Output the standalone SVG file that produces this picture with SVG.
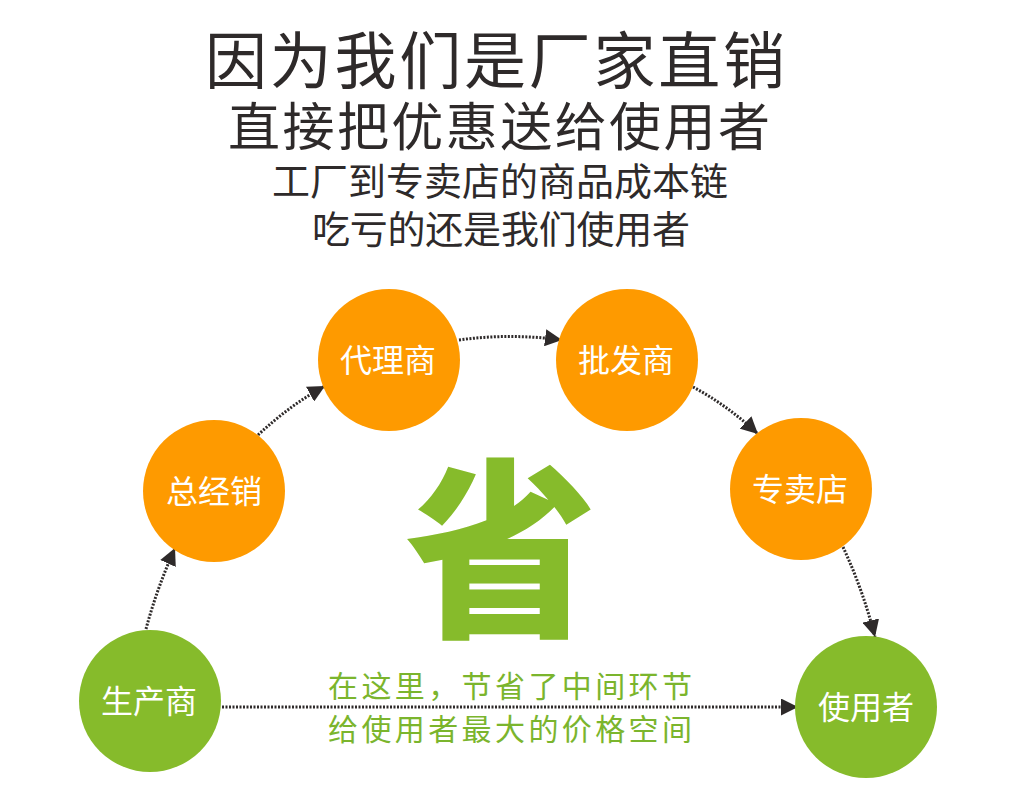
<svg xmlns="http://www.w3.org/2000/svg" width="1009" height="791" viewBox="0 0 1009 791">
<style>
.title{font-family:"Noto Sans CJK SC","Noto Sans CJK TC",sans-serif;fill:#2e2a2a;text-anchor:middle;}
.node-o{fill:#fe9a00;}
.node-g{fill:#86bb2b;}
.lbl{font-family:"Noto Sans CJK SC",sans-serif;font-size:32px;fill:#ffffff;text-anchor:middle;}
.conn{fill:none;stroke:#2e2a2a;stroke-width:3;stroke-dasharray:2 1.5;marker-end:url(#arr);}
.note{font-family:"Noto Sans CJK SC",sans-serif;font-size:30px;fill:#7bb52d;}
.big{font-family:"Noto Sans CJK SC",sans-serif;font-weight:900;font-size:192px;fill:#86bb2b;text-anchor:middle;}
</style>
<defs>
<marker id="arr" markerUnits="userSpaceOnUse" markerWidth="18" markerHeight="17" refX="17" refY="8.5" orient="auto">
<path d="M0,0 L17,8.5 L0,17 z" fill="#2e2a2a"/>
</marker>
</defs>
<rect width="1009" height="791" fill="#ffffff"/>
<g id="titles">
<text class="title" x="495" y="84" font-size="62" textLength="580" lengthAdjust="spacing">因为我们是厂家直销</text>
<text class="title" x="499" y="146" font-size="52" textLength="542" lengthAdjust="spacing">直接把优惠送给使用者</text>
<text class="title" x="500" y="195" font-size="38" textLength="456" lengthAdjust="spacing">工厂到专卖店的商品成本链</text>
<text class="title" x="501" y="243" font-size="38" textLength="378" lengthAdjust="spacing">吃亏的还是我们使用者</text>
</g>
<g id="connectors">
<path class="conn" d="M146,629 Q157,588 175,548"/>
<path class="conn" d="M258,435 Q290,405 325,386"/>
<path class="conn" d="M459,340 Q510,333 562,340"/>
<path class="conn" d="M693,387 Q727,405 758,434"/>
<path class="conn" d="M843,547 Q863,590 875,637"/>
<path class="conn" d="M222,707 L798,707"/>
</g>
<g id="node-shengchanshang">
<circle class="node-g" cx="150" cy="701" r="71"/>
<text class="lbl" x="149" y="713">生产商</text>
</g>
<g id="node-zongjingxiao">
<circle class="node-o" cx="214" cy="491" r="71"/>
<text class="lbl" x="214" y="503">总经销</text>
</g>
<g id="node-dailishang">
<circle class="node-o" cx="389" cy="360" r="71"/>
<text class="lbl" x="388" y="372">代理商</text>
</g>
<g id="node-pifashang">
<circle class="node-o" cx="627" cy="360" r="71"/>
<text class="lbl" x="626" y="372">批发商</text>
</g>
<g id="node-zhuanmaidian">
<circle class="node-o" cx="801" cy="489" r="71"/>
<text class="lbl" x="800" y="501">专卖店</text>
</g>
<g id="node-shiyongzhe">
<circle class="node-g" cx="866" cy="707" r="71"/>
<text class="lbl" x="866" y="719">使用者</text>
</g>
<g id="center">
<text class="big" x="501" y="622">省</text>
<text class="note" x="328" y="697" textLength="364" lengthAdjust="spacing">在这里，节省了中间环节</text>
<text class="note" x="328" y="740" textLength="364" lengthAdjust="spacing">给使用者最大的价格空间</text>
</g>
</svg>
